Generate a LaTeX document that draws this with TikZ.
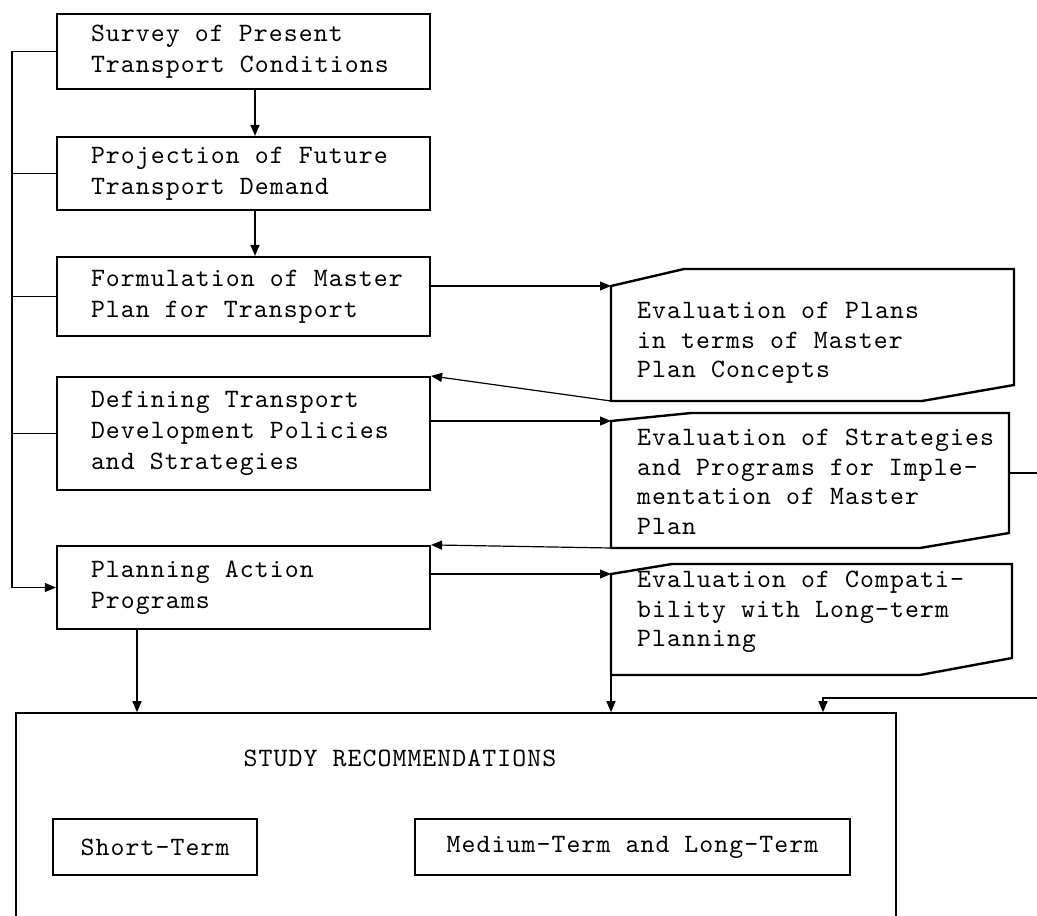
\documentclass[tikz,border=0pt]{standalone}
\usepackage{fontspec}
\usepackage{tikz}
\usetikzlibrary{arrows.meta,calc}
\newfontfamily\typefont[LetterSpace=4.1]{lmmono10-regular.otf}
\tikzstyle{task}		=[rectangle,draw=black,line width=2.2pt,minimum width=373pt,text width=305pt,inner xsep=34pt,inner ysep=0pt,align=flush left,font=\typefont\fontsize{26.5}{31}\selectfont]
\tikzstyle{evalt}		=[anchor=west,inner xsep=26pt,inner ysep=0pt,align=left,font=\typefont\fontsize{26.5}{29.5}\selectfont]
\tikzstyle{evalline}	=[draw,line width=2.4pt,line join=miter]
\tikzstyle{rec}			=[rectangle,draw=black,line width=1.6pt,font=\typefont\fontsize{26.5}{30}\selectfont]
\tikzstyle{rectitle}	=[inner sep=0pt,font=\typefont\fontsize{26.5}{30}\selectfont]
\tikzstyle{edgetr} 	= [draw,->,line width=1.2pt]
\tikzstyle{edge1} 	= [draw,-,line width=1.2pt]

\begin{document}
\begin{tikzpicture}[x=1pt,y=-1pt,>={Triangle[length=11pt,width=9pt]}]
		\useasboundingbox (0,0) rectangle (1037,916);
		
		%%%% Planning steps (left column)
		\node[task,minimum height=75pt] (survey) at (243.5,51.5) {Survey of Present\\Transport Conditions};
		\node[task,minimum height=73pt] (proj) at (243.5,173.5) {Projection of Future\\Transport Demand};
		\node[task,minimum height=79pt] (form) at (243.5,296.5) {\mbox{Formulation of Master}\\Plan for Transport};
		\node[task,minimum height=113pt] (def) at (243.5,433.5) {Defining Transport\\Development Policies\\and Strategies};
		\node[task,minimum height=83pt] (plan) at (243.5,587.5) {Planning Action\\Programs};
		
		%%%% Evaluations (cut corner cards)
		\node[evalt] (e1) at (611,343) {Evaluation of Plans\\in terms of Master\\Plan Concepts};
		\node[evalt] (e2) at (611,482) {Evaluation of Strategies\\and Programs for Imple-\\mentation of Master\\Plan};
		\node[evalt] (e3) at (611,612) {Evaluation of Compati-\\bility with Long-term\\Planning};
		
		\foreach \n/\ww/\yt/\yb/\ax/\ay/\cx/\cy in {e1/403/-74/58/73/17/92/16, e2/398/-69/66/80/8/89/15, e3/401/-48/63/61/10/92/17}
		\path[evalline] ($(\n.west)+(0,\yt+\ay)$) coordinate (\n-in)
			-- ($(\n.west)+(\ax,\yt)$)
			-- ($(\n.west)+(\ww,\yt)$) coordinate (\n-ne)
			-- ($(\n.west)+(\ww,\yb-\cy)$) coordinate (\n-se)
			-- ($(\n.west)+(\ww-\cx,\yb)$)
			-- ($(\n.west)+(0,\yb)$) coordinate (\n-out)
			-- cycle;
		
		%%% Recommendations
		\node[rec,minimum width=880pt,minimum height=260pt] (study) at (456,843) {};
		\node[rectitle] (title) at (400,758) {STUDY RECOMMENDATIONS};
		\node[rec,minimum width=204pt,minimum height=56pt] (short) at (155,847) {Short-Term};
		\node[rec,minimum width=435pt,minimum height=56pt] (medium) at (632.5,847) {Medium-Term and Long-Term};
		
		\coordinate (loop) at (1050,698);
		
		%%%% Links
		\foreach \source/ \dest in {survey/proj,proj/form}	\path[edgetr] (\source.south -| 255,0) -- (\dest.north -| 255,0);
		\path[edgetr] (survey.west) -- (survey.west -| 12,0) |- (plan.west);
		\foreach \n in {proj,form,def}	\path[edge1] (\n.west) -- (\n.west -| 12,0);
		\path[edgetr] (plan.south -| 137,0) -- (study.north -| 137,0);
		
		\foreach \source/ \dest in {form/e1,def/e2,plan/e3}	\path[edgetr] (\source.east |- \dest-in) -- (\dest-in);
		\foreach \source/ \dest in {e1/def,e2/plan}	\path[edgetr] (\source-out) -- (\dest.north east);
		\path[edgetr] (e3-out) -- (e3-out |- study.north);
		\path[edgetr] ($(e2-ne)!0.5!(e2-se)$) -| (loop) -| (study.north -| 823,0);
\end{tikzpicture}
\end{document}
